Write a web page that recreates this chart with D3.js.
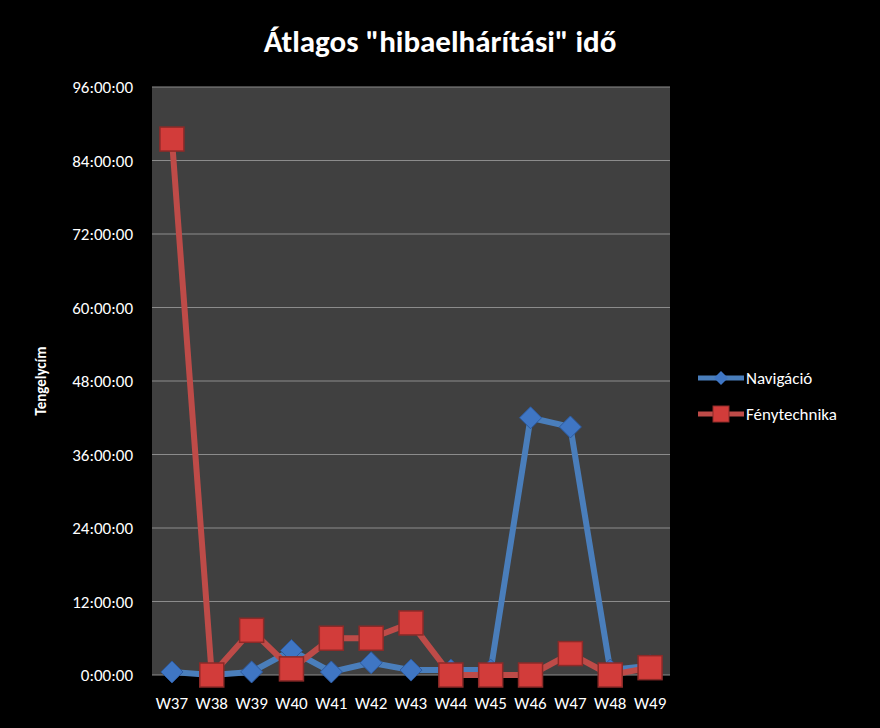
<!DOCTYPE html>
<html><head><meta charset="utf-8">
<script src="https://cdn.jsdelivr.net/npm/d3@7"></script>
<style>body{margin:0;background:#000}text{font-family:Calibri,Carlito,"Open Sans",sans-serif;fill:#fff}</style>
</head><body><div id="wrapper"></div>
<script>
// weeks and average hours
const weeks = ["W37","W38","W39","W40","W41","W42","W43","W44","W45","W46","W47","W48","W49"];
const navigacio = [0.5,0,0.5,4,0.5,2,0.8,0.8,0.8,42,40.5,0.8,1.5];
const fenytechnika = [87.5,0,7.3,1,6,6,8.5,0,0,0,3.5,0,1.2];
const yTicks = [0,12,24,36,48,60,72,84,96];

const svg = d3.select("#wrapper").append("svg").attr("width",880).attr("height",728);
svg.append("rect").attr("width",880).attr("height",728).attr("fill","#000");

const x = d3.scaleBand().domain(weeks).range([152,670]);
const y = d3.scaleLinear().domain([0,96]).range([675,87]);

svg.append("rect").attr("x",152).attr("y",87).attr("width",518).attr("height",588).attr("fill","#404040");
svg.selectAll(".grid").data(yTicks).enter().append("line")
	.attr("x1",152).attr("x2",670).attr("y1",d=>y(d)).attr("y2",d=>y(d))
	.attr("stroke","#8c8c8c").attr("stroke-width",1);

svg.selectAll(".yl").data(yTicks).enter().append("text")
	.attr("x",133).attr("y",d=>y(d)+6).attr("text-anchor","end").attr("font-size",17)
	.text(d=>d+":00:00");
svg.selectAll(".xl").data(weeks).enter().append("text")
	.attr("x",d=>x(d)+x.bandwidth()/2).attr("y",709).attr("text-anchor","middle").attr("font-size",17)
	.text(d=>d);

svg.append("text").attr("x",440).attr("y",52).attr("text-anchor","middle")
	.attr("font-size",31).attr("font-weight","bold").text('Átlagos "hibaelhárítási" idő');
svg.append("text").attr("transform","translate(46,381) rotate(-90)").attr("text-anchor","middle")
	.attr("font-size",15).attr("font-weight","bold").text("Tengelycím");

const cx = d=>x(d)+x.bandwidth()/2;
const line = d3.line().x((d,i)=>cx(weeks[i])).y(d=>y(d));

const series = [
	{name:"Navigáció", vals:navigacio, color:"#4a7ebb", fill:"#3f76c4", shape:"diamond"},
	{name:"Fénytechnika", vals:fenytechnika, color:"#be4b48", fill:"#d23c3a", shape:"square"}
];
series.forEach(s=>{
	svg.append("path").datum(s.vals).attr("d",line).attr("fill","none")
		.attr("stroke",s.color).attr("stroke-width",6).attr("stroke-linejoin","round");
});
function marker(g,shape,fill,px,py){
	if(shape==="diamond"){
		g.append("path").attr("d",`M${px},${py-11}L${px+11},${py}L${px},${py+11}L${px-11},${py}Z`)
			.attr("fill",fill).attr("stroke","#2c5aa0").attr("stroke-width",1);
	}else{
		g.append("rect").attr("x",px-12).attr("y",py-12).attr("width",24).attr("height",24)
			.attr("fill",fill).attr("stroke","#8c2a28").attr("stroke-width",1.5);
	}
}
series.forEach(s=>{
	const g = svg.append("g");
	s.vals.forEach((v,i)=>marker(g,s.shape,s.fill,cx(weeks[i]),y(v)));
});

// legend
series.forEach((s,i)=>{
	const ly = 378+i*36;
	svg.append("line").attr("x1",698).attr("x2",744).attr("y1",ly).attr("y2",ly)
		.attr("stroke",s.color).attr("stroke-width",5);
	const g = svg.append("g");
	if(s.shape==="diamond"){
		g.append("path").attr("d",`M721,${ly-7}L728,${ly}L721,${ly+7}L714,${ly}Z`).attr("fill",s.fill);
	}else{
		g.append("rect").attr("x",713).attr("y",ly-8).attr("width",16).attr("height",16)
			.attr("fill",s.fill).attr("stroke","#8c2a28");
	}
	svg.append("text").attr("x",746).attr("y",ly+6).attr("font-size",17).text(s.name);
});
</script></body></html>
